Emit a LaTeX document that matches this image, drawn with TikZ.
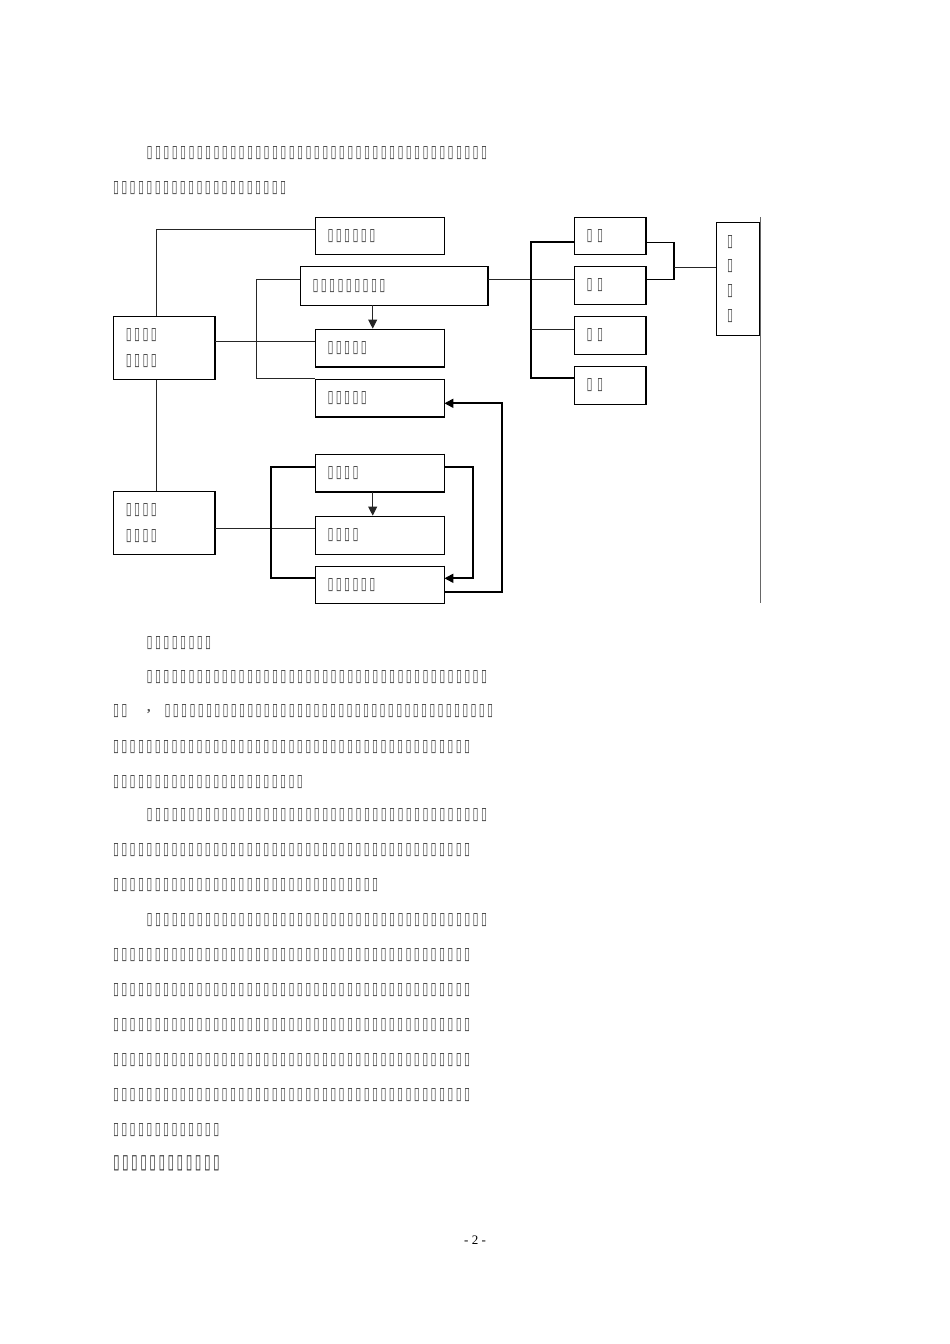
\documentclass[tikz,border=0pt]{standalone}
\usepackage{fontspec}
\newfontfamily\dejavu{DejaVu Sans}
\newfontfamily\libser{Liberation Serif}
\usetikzlibrary{arrows.meta,calc}
\definecolor{tofugray}{HTML}{484848}
\newcommand\tfglyph{\raisebox{-1.2pt}{\resizebox{6pt}{11pt}{\dejavu ▯}}}
\newcommand\tfglyphb{\raisebox{-1.4pt}{\resizebox{6.6pt}{12.8pt}{\dejavu ▯}}}
\newcommand\tofus[2][8.36pt]{\foreach\tfi in {1,...,#2}{\makebox[#1][l]{\tfglyph}}}
\newcommand\tofusb[2][9.1pt]{\foreach\tfi in {1,...,#2}{\makebox[#1][l]{\tfglyphb}}}
\begin{document}
\begin{tikzpicture}[x=1pt,y=-1pt,
  bx/.style={draw, line width=0.8pt, inner xsep=12.5pt, inner ysep=0pt, align=left,
    text=tofugray, font={\fontsize{10}{25.5}\selectfont}},
  para/.style={anchor=west, inner sep=0pt, text=tofugray},
  conn/.style={line width=0.9pt, black!85},
  thk/.style={line width=1.7pt},
  arr/.style={-{Triangle[width=9pt,length=9pt]}}]
\useasboundingbox[fill=white] (0,0) rectangle (950,1344);

% paragraph lines above diagram
\node[para] (p1) at (146.5,153) {\tofus{41}};
\node[para] (p2) at (112.8,188) {\tofus{21}};

% boxes
\node[bx, text width=104.3pt, minimum height=37pt] (n1) at (379.65,235.8) {\tofus{6}};
\node[bx, text width=162.7pt, minimum height=38.3pt] (n9) at (393.85,285.85) {\tofus{9}};
\node[bx, text width=104pt, minimum height=37.7pt] (n5a) at (379.5,347.85) {\tofus{5}};
\node[bx, text width=104pt, minimum height=37.4pt] (n5b) at (379.5,398) {\tofus{5}};
\node[bx, text width=76.2pt, minimum height=62.6pt] (A) at (163.9,348) {\tofus{4}\\\tofus{4}};
\node[bx, text width=76.2pt, minimum height=62.3pt] (B) at (163.9,522.85) {\tofus{4}\\\tofus{4}};
\node[bx, text width=104pt, minimum height=37.7pt] (n4a) at (379.5,472.85) {\tofus{4}};
\node[bx, text width=104pt, minimum height=38pt] (n4b) at (379.5,535) {\tofus{4}};
\node[bx, text width=104pt, minimum height=37.3pt] (n6b) at (379.5,584.65) {\tofus{6}};
\node[bx, text width=46.7pt, minimum height=37pt] (r1) at (609.85,235.8) {\tofus[10.5pt]{2}};
\node[bx, text width=46.7pt, minimum height=37.3pt] (r2) at (609.85,285.5) {\tofus[10.5pt]{2}};
\node[bx, text width=46.7pt, minimum height=37.3pt] (r3) at (609.85,335.35) {\tofus[10.5pt]{2}};
\node[bx, text width=46.7pt, minimum height=37.3pt] (r4) at (609.85,385.35) {\tofus[10.5pt]{2}};
\node[bx, inner xsep=10.5pt, text width=21.6pt, minimum height=112.3pt,
  font={\fontsize{10}{24.8}\selectfont}] (T) at (738,278.85) {\tofus{1}\\\tofus{1}\\\tofus{1}\\\tofus{1}};

% heavier right and bottom edges
\foreach \n in {n1,n9,n5a,n5b,A,B,n4a,n4b,n6b,r1,r2,r3,r4,T}
  \draw[line width=1.5pt] (\n.north east) -- (\n.south east) -- (\n.south west);

% connectors, left part
\draw[conn] ([yshift=6.8pt]n1.west) -| ([xshift=-7.2pt]A.north);
\draw[conn] ([xshift=-7.2pt]A.south) -- ([xshift=-7.2pt]B.north);
\draw[conn] ([yshift=6.3pt]A.east) -- ([yshift=6.3pt]A.east -| n5a.west);
\draw[conn] ([yshift=6.85pt]n9.west) -- ++(-42.7,0) |- (n5b.north west);
\draw[conn,arr] ([xshift=-6.8pt]n5a.north |- n9.south) -- ([xshift=-6.8pt]n5a.north);

% right bracket
\coordinate (bk) at (530.7,0);
\coordinate (rk) at (674,0);
\draw[conn] ([yshift=6.85pt]n9.east) -- ([yshift=6.85pt]n9.east -| r2.west);
\draw[thk] ([yshift=-6.5pt]r1.west) -- ([yshift=-6.5pt]r1.west -| bk) -- ([yshift=7.05pt]r4.west -| bk) -- ([yshift=7.05pt]r4.west);
\draw[conn] ([yshift=6.35pt]r3.west -| bk) -- ([yshift=6.35pt]r3.west);
\draw[line width=1.4pt] ([yshift=-6.5pt]r1.east) -- ([yshift=-6.5pt]r1.east -| rk) -- ([yshift=6.2pt]r2.east -| rk) -- ([yshift=6.2pt]r2.east);
\draw[conn] ([yshift=11.55pt]T.west -| rk) -- ([yshift=11.55pt]T.west);
\coordinate (vt) at (760.6,217);
\coordinate (vb) at (760.6,603);
\draw[line width=0.8pt, black!60] (vt) -- (vb);

% lower part
\draw[conn] ([yshift=-5.85pt]B.east) -- ([yshift=-5.85pt]B.east -| n4b.west);
\draw[thk] ([yshift=6.15pt]n4a.west) -- ++(-43.3,0) |- ([yshift=6.35pt]n6b.west);
\draw[thk,arr] ([yshift=6.15pt]n4a.east) -- ++(28.7,0) |- ([yshift=6.35pt]n6b.east);
\draw[thk,arr] ([yshift=-7.05pt]n6b.east) -- ++(57.7,0) |- ([yshift=-5.3pt]n5b.east);
\draw[conn,arr] ([xshift=-6.8pt]n4b.north |- n4a.south) -- ([xshift=-6.8pt]n4b.north);

% paragraph lines below diagram
\node[para] (q1) at (146.5,643) {\tofus{8}};
\node[para] (q2) at (146.5,676.7) {\tofus{41}};
\node[para] (q3a) at (112.8,711) {\tofus{2}};
\node[para, font={\libser\fontsize{14}{14}\selectfont\bfseries}, text=black!70] (q3c) at (147,712) {,};
\node[para] (q3b) at (164.5,711) {\tofus[8.27pt]{40}};
\node[para] (q4) at (112.8,746.7) {\tofus{43}};
\node[para] (q5) at (112.8,781.7) {\tofus{23}};
\node[para] (q6) at (146.5,815) {\tofus{41}};
\node[para] (q7) at (112.8,850) {\tofus{43}};
\node[para] (q8) at (112.8,885) {\tofus{32}};
\node[para] (q9) at (146.5,920) {\tofus{41}};
\node[para] (q10) at (112.8,955) {\tofus{43}};
\node[para] (q11) at (112.8,990) {\tofus{43}};
\node[para] (q12) at (112.8,1025) {\tofus{43}};
\node[para] (q13) at (112.8,1060) {\tofus{43}};
\node[para] (q14) at (112.8,1095) {\tofus{43}};
\node[para] (q15) at (112.8,1130) {\tofus{13}};
\node[para, text=black!80] (q16) at (112.8,1163.5) {\tofusb{12}};

% page number
\node[font={\libser\fontsize{13}{13}\selectfont}, inner sep=0pt] (pg) at (475,1240) {- 2 -};
\end{tikzpicture}
\end{document}
